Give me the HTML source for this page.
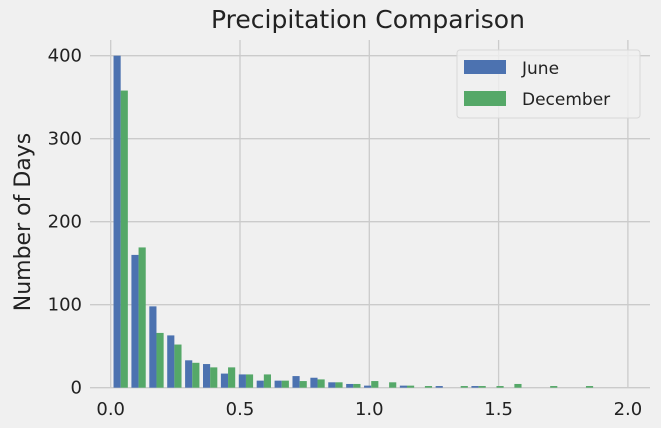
<!DOCTYPE html>
<html><head><meta charset="utf-8"><style>
body{margin:0;background:#f0f0f0;}
svg{display:block;font-family:"DejaVu Sans","Liberation Sans",sans-serif;}
</style></head><body>
<svg id="chart" width="661" height="428" viewBox="0 0 661 428">
<rect width="661" height="428" fill="#f0f0f0"/>
<g id="grid"></g>
<g id="bars"></g>
<g id="ticks"></g>
<text x="368" y="28" text-anchor="middle" font-size="25" fill="#222">Precipitation Comparison</text>
<text transform="translate(30,222) rotate(-90)" text-anchor="middle" font-size="22" fill="#222">Number of Days</text>
<g>
<rect x="457" y="50" width="183" height="68" rx="3" fill="#f0f0f0" fill-opacity="0.8" stroke="#d8d8d8"/>
<g>
<rect x="464" y="60" width="42" height="14" fill="#4C72B0"/>
<text x="522" y="74" font-size="17" fill="#222">June</text>
</g>
<g>
<rect x="464" y="91" width="42" height="15" fill="#55A868"/>
<text x="522" y="105" font-size="17" fill="#222">December</text>
</g>
</g>
</svg>
<script>
const binStart = 0.004;
const binWidth = 0.0692;
const juneCounts = [400,160,98,63,33,28.5,17,16,8.5,8.5,14,12,6.5,4.5,2.5,0,2.5,0,2,0,2,0,0,0,0,0,0];
const decCounts  = [358,169,66,52,30,24.5,24.5,16,16,8.5,8,10,6.5,4.5,8,6.5,2.5,2,0,2,2,2,4.5,0,2,0,2];
const xTicks = [0,0.5,1,1.5,2];
const xTickLabels = ["0.0","0.5","1.0","1.5","2.0"];
const yTicks = [0,100,200,300,400];
const yTickLabels = ["0","100","200","300","400"];

(function(){
const NS="http://www.w3.org/2000/svg";
const xs = v => 110.7 + v*258.6;
const ys = v => 387.7 - v*0.83;
const plotLeft=90, plotRight=650, plotTop=40, plotBottom=388;
function mk(tag, attrs, parent){const e=document.createElementNS(NS,tag);for(const k in attrs)e.setAttribute(k,attrs[k]);parent.appendChild(e);return e;}
const grid=document.getElementById('grid'), bars=document.getElementById('bars'), ticks=document.getElementById('ticks');
yTicks.forEach((t,i)=>{
  const l=mk('line',{x1:plotLeft,x2:plotRight,y1:ys(t),y2:ys(t),stroke:'#cbcbcb','stroke-width':1.3},grid);
  
  
  const tx=mk('text',{x:82,y:ys(t)+6,'text-anchor':'end','font-size':18,fill:'#222'},ticks);
  tx.textContent=yTickLabels[i];
  
  
});
xTicks.forEach((t,i)=>{
  const l=mk('line',{x1:xs(t),x2:xs(t),y1:plotTop,y2:plotBottom,stroke:'#cbcbcb','stroke-width':1.3},grid);
  
  
  const tx=mk('text',{x:xs(t),y:415,'text-anchor':'middle','font-size':18,fill:'#222'},ticks);
  tx.textContent=xTickLabels[i];
  
  
});
const bw = binWidth*0.8/2;
juneCounts.forEach((v,i)=>{
  if(v<=0) return;
  const x0=binStart+i*binWidth+binWidth*0.1;
  const r=mk('rect',{x:xs(x0),y:ys(v),width:xs(x0+bw)-xs(x0),height:ys(0)-ys(v),fill:'#4C72B0'},bars);
  
  
});
decCounts.forEach((v,i)=>{
  if(v<=0) return;
  const x0=binStart+i*binWidth+binWidth*0.1+bw;
  const r=mk('rect',{x:xs(x0),y:ys(v),width:xs(x0+bw)-xs(x0),height:ys(0)-ys(v),fill:'#55A868'},bars);
  
  
});
})();
</script>
</body></html>
